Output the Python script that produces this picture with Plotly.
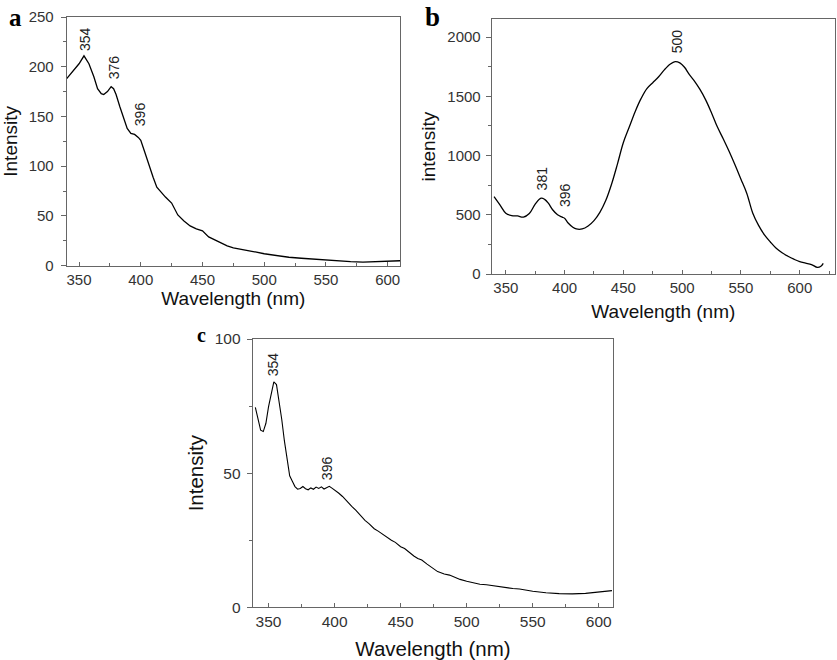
import plotly.graph_objects as go

# ---------------- data ----------------
wl_a = [340, 345, 350, 354, 358, 362, 365, 368, 370, 373, 376, 378, 380, 383, 386, 389, 392, 395, 398,
        400, 403, 406, 410, 413, 417, 420, 425, 430, 435, 440, 445, 450, 455, 460, 465, 470, 475, 480,
        490, 500, 510, 520, 530, 540, 550, 560, 570, 580, 590, 600, 610]
int_a = [188, 195, 203, 211, 203, 190, 178, 173, 172, 175, 180, 178, 172, 160, 148, 138, 133, 132, 129,
         126, 115, 103, 89, 79, 73, 69, 63, 51, 45, 40, 37, 35, 29, 26, 23, 20, 18, 17,
         14.5, 12, 10, 8.5, 7.5, 6.5, 5.5, 4.5, 4, 3.5, 4, 4.5, 5]

wl_b = [340, 345, 350, 355, 360, 365, 370, 375, 380, 383, 386, 390, 394, 398, 400, 403, 407, 410, 415,
        420, 425, 430, 435, 440, 445, 450, 455, 460, 465, 470, 475, 480, 485, 490, 494, 498, 502, 506,
        510, 515, 520, 525, 530, 535, 540, 545, 550, 555, 560, 565, 570, 575, 580, 585, 590, 595, 600,
        605, 610, 615, 618, 620]
int_b = [653, 583, 513, 493, 490, 480, 510, 590, 640, 630, 600, 540, 500, 480, 470, 430, 395, 380, 380,
         405, 450, 520, 620, 760, 930, 1110, 1240, 1370, 1480, 1565, 1615, 1665, 1725, 1772, 1792, 1782, 1745, 1685,
         1635, 1560, 1470, 1360, 1240, 1140, 1034, 920, 800, 680, 515, 410, 330, 270, 217, 180, 150, 125, 104,
         92, 80, 56, 65, 90]

wl_c = [340, 342, 344, 346, 348, 350, 352, 354, 356, 358, 360, 362, 364, 366, 368, 370, 372, 374, 376,
        378, 380, 382, 384, 386, 388, 390, 392, 394, 396, 398, 400, 403, 406, 410, 413, 416, 420, 423,
        426, 430, 433, 436, 440, 443, 446, 450, 453, 456, 460, 463, 466, 470, 474, 478, 480, 483,
        487, 490, 495, 500, 505, 510, 515, 520, 525, 530, 535, 540, 545, 550, 555, 560, 570, 580, 590, 600, 605, 610]
int_c = [74.5, 70, 66, 65.5, 68.6, 74.8, 80, 84, 83, 77, 70, 62, 55, 49, 47, 45, 44, 44.3, 45,
         44.2, 43.8, 44.5, 44.0, 44.8, 44.3, 44.9, 44.1, 44.7, 45.1, 44.4, 43.8, 42.6, 41.3, 39, 37.6, 36.2, 34, 32.4,
         31.2, 29.3, 28.4, 27.4, 25.8, 25.0, 24.2, 22.6, 21.9, 20.6, 19.1, 18.2, 17.6, 16.1, 14.7, 13.3, 13.0, 12.4,
         12.0, 11.3, 10.4, 9.7, 9.1, 8.6, 8.4, 8.0, 7.8, 7.4, 7.0, 6.8, 6.3, 6.0, 5.7, 5.4, 5.1, 5.0, 5.2, 5.6, 6.0, 6.2]

peaks_a = ["354", "376", "396"]
peak_x_a = [355, 378, 400]
peak_y_a = [214, 185, 138]

peaks_b = ["381", "396", "500"]
peak_x_b = [380.6, 401, 495.2]
peak_y_b = [687, 546, 1842]

peaks_c = ["354", "396"]
peak_x_c = [354, 393.8]
peak_y_c = [85.3, 46.8]

W, H = 837, 660

fig = go.Figure()
fig.add_trace(go.Scatter(x=wl_a, y=int_a, mode="lines", line=dict(color="black", width=1.3),
                         xaxis="x", yaxis="y", showlegend=False))
fig.add_trace(go.Scatter(x=wl_b, y=int_b, mode="lines", line=dict(color="black", width=1.3, shape="spline"),
                         xaxis="x2", yaxis="y2", showlegend=False))
fig.add_trace(go.Scatter(x=wl_c, y=int_c, mode="lines", line=dict(color="black", width=1.1),
                         xaxis="x3", yaxis="y3", showlegend=False))

FONT = "Liberation Sans, Arial, sans-serif"


def xax(domain, rng, anchor, fs, tfs, standoff):
    return dict(domain=domain, range=rng, anchor=anchor, showgrid=False, zeroline=False, automargin=False,
                showline=True, linecolor="#666", linewidth=1, mirror=True,
                ticks="inside", ticklen=4, tickcolor="#666", dtick=50, tick0=0,
                minor=dict(ticks="inside", ticklen=3, dtick=25, tickcolor="#666"),
                tickfont=dict(family=FONT, size=fs, color="#333"),
                title=dict(text="Wavelength (nm)", font=dict(family=FONT, size=tfs, color="#111"),
                           standoff=standoff))


def yax(domain, rng, anchor, dtick, title, fs, tfs, standoff, lblgap):
    return dict(domain=domain, range=rng, anchor=anchor, showgrid=False, zeroline=False, automargin=False,
                showline=True, linecolor="#666", linewidth=1, mirror=True,
                ticks="outside", ticklen=5, tickcolor="#666", dtick=dtick, tick0=0,
                minor=dict(ticks="outside", ticklen=3, dtick=dtick / 2, tickcolor="#666"),
                ticklabelstandoff=lblgap,
                tickfont=dict(family=FONT, size=fs, color="#333"),
                title=dict(text=title, font=dict(family=FONT, size=tfs, color="#111"), standoff=standoff))


def px(x0, x1):
    return [x0 / W, x1 / W]


def py(top, bottom):
    return [1 - bottom / H, 1 - top / H]


fig.update_layout(
    width=W, height=H, margin=dict(l=0, r=0, t=0, b=0, autoexpand=False),
    paper_bgcolor="white", plot_bgcolor="white",
    xaxis=xax(px(66.7, 400), [340, 610], "y", 15, 19, 2),
    yaxis=yax(py(17, 265.7), [0, 250], "x", 50, "Intensity", 15, 19, 8, 4),
    xaxis2=xax(px(491.7, 835), [338, 630], "y2", 15, 19, 9),
    yaxis2=yax(py(19.3, 274), [0, 2150], "x2", 500, "intensity", 15, 19, 6, 2),
    xaxis3=xax(px(252.7, 613.3), [338, 611], "y3", 15.5, 20.5, 13),
    yaxis3=yax(py(339, 607.3), [0, 100], "x3", 50, "Intensity", 15.5, 20.5, 5, 3),
)

annfont = dict(family=FONT, size=14, color="#222")
anns = []
for labels, xs, ys, xr, yr in [(peaks_a, peak_x_a, peak_y_a, "x", "y"),
                               (peaks_b, peak_x_b, peak_y_b, "x2", "y2"),
                               (peaks_c, peak_x_c, peak_y_c, "x3", "y3")]:
    for t, xv, yv in zip(labels, xs, ys):
        anns.append(dict(text=t, x=xv, y=yv, xref=xr, yref=yr, showarrow=False, textangle=-90,
                         xanchor="center", yanchor="bottom", font=annfont))

letter_font = "Liberation Serif, Times New Roman, serif"
for t, xp, yp, sz in [("a", 16, 17, 25), ("b", 432, 17, 27), ("c", 201, 335, 20)]:
    anns.append(dict(text="<b>%s</b>" % t, x=xp / W, y=1 - yp / H, xref="paper", yref="paper",
                     showarrow=False, xanchor="center", yanchor="middle",
                     font=dict(family=letter_font, size=sz, color="black")))
fig.update_layout(annotations=anns)

fig.write_html("out.html", config={"displayModeBar": False},
               post_script="document.body.style.margin='0';")
